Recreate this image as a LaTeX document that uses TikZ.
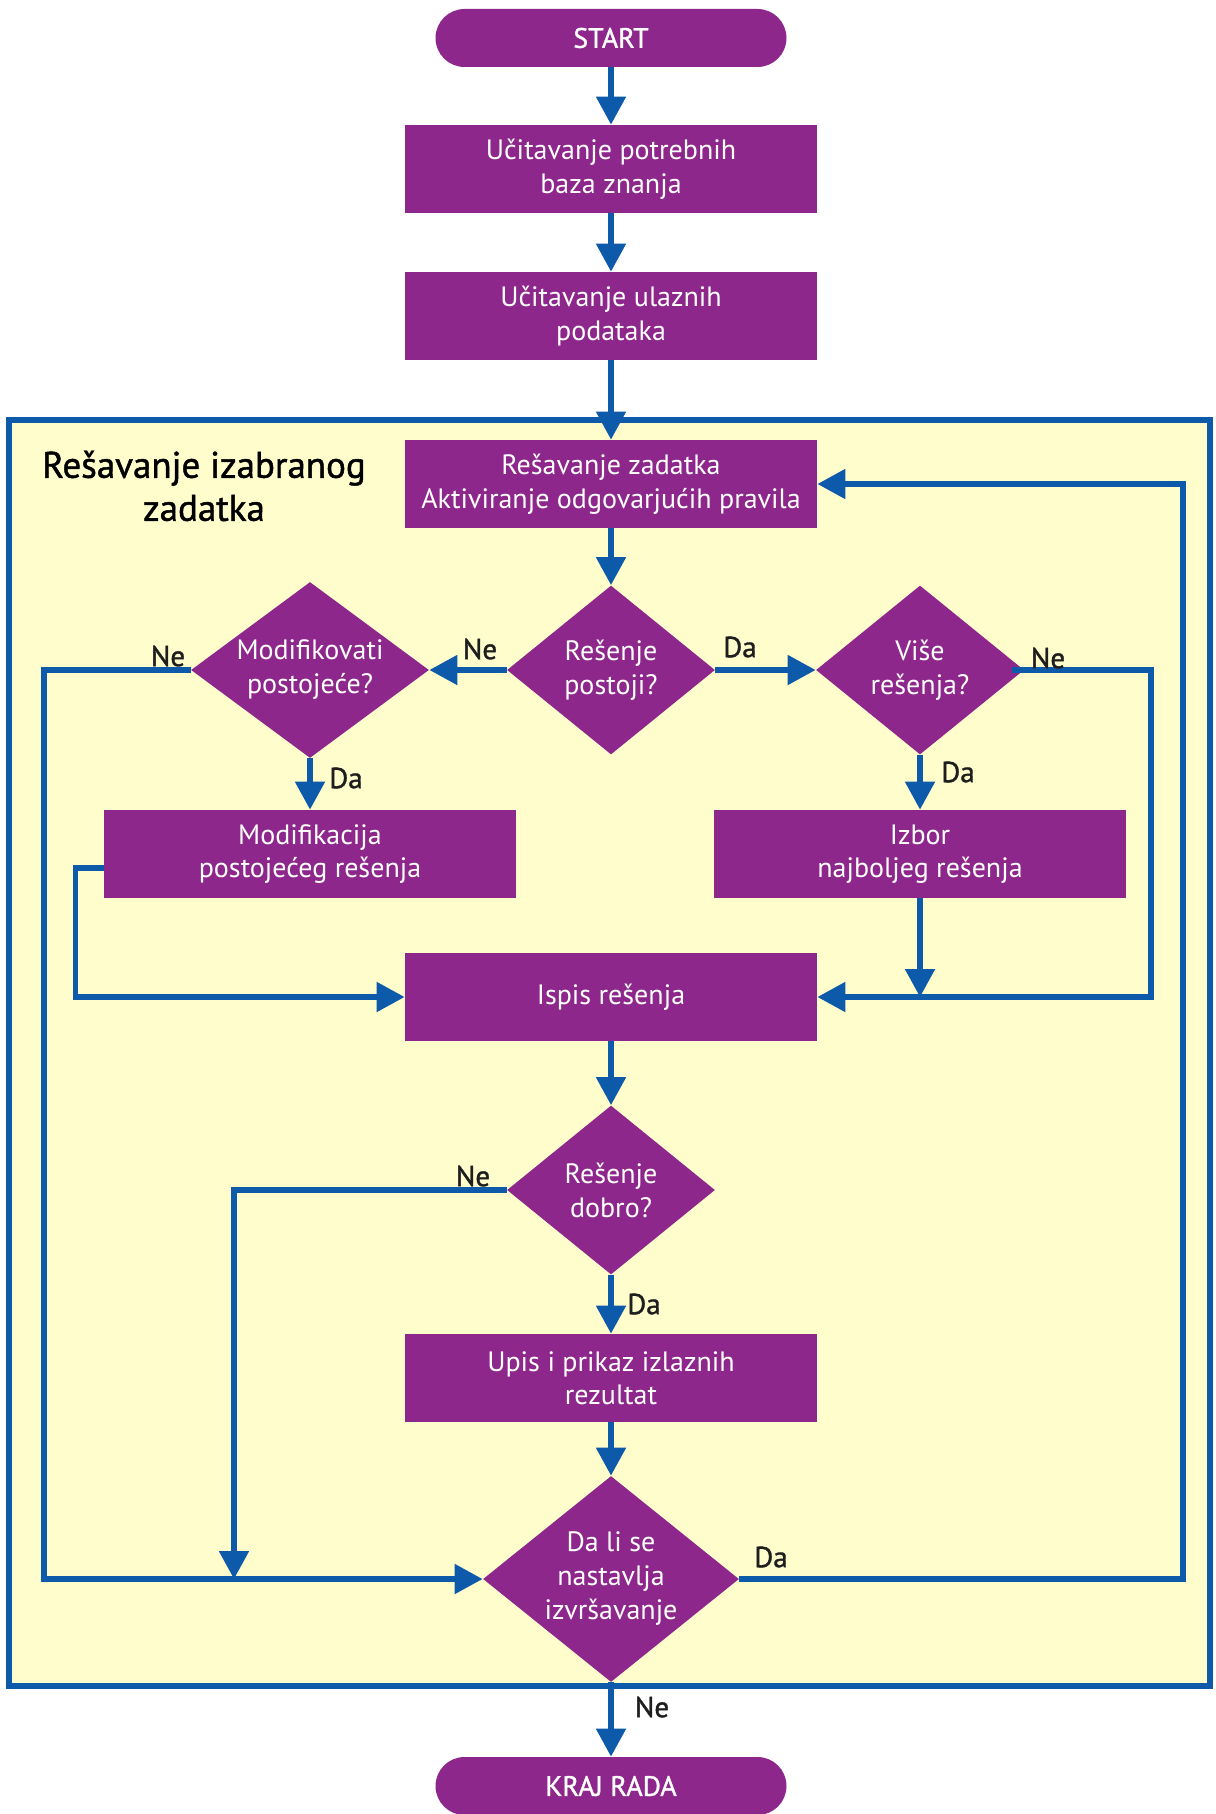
\documentclass[tikz,border=0pt]{standalone}
\usepackage{fontspec}
\setmainfont{PT Sans}
\newfontfamily\medfont{PT Sans}[BoldFont={PT Sans}, BoldFeatures={FakeBold=1.2}]
\usetikzlibrary{shapes.geometric, arrows.meta}
\definecolor{purp}{RGB}{142,39,140}
\definecolor{flow}{RGB}{14,90,170}
\definecolor{bgy}{RGB}{255,253,204}
\definecolor{ink}{RGB}{30,30,30}
\begin{document}
\begin{tikzpicture}[x=0.5pt,y=-0.5pt,
  box/.style={fill=purp, text=white, minimum width=206pt, minimum height=44pt, inner sep=0pt, align=center, font=\fontsize{14}{16.75}\selectfont},
  term/.style={box, rounded corners=14.5pt, minimum width=175.5pt, minimum height=29pt, font=\medfont\bfseries\fontsize{14}{16}\selectfont},
  dia/.style={diamond, fill=purp, text=white, inner sep=-10pt, align=center, font=\fontsize{14}{17}\selectfont},
  flowline/.style={draw=flow, line width=2.6pt},
  arr/.style={flowline, -{Triangle[length=14pt,width=14.5pt]}},
  lbl/.style={font=\medfont\bfseries\fontsize{14.5}{15}\selectfont, text=ink, inner sep=0pt}
]
\useasboundingbox (0,0) rectangle (1215,1814);
\fill[white] (0,0) rectangle (1215,1814);

% container
\draw[flowline, fill=bgy] (9,420) rectangle (1210,1686);
\node[font=\medfont\bfseries\fontsize{18.5}{21.5}\selectfont, text=black, align=center] (title) at (204,486) {Rešavanje izabranog\\zadatka};

% nodes
\node[term] (start) at (611,38) {START};
\node[box] (b1) at (611,169) {Učitavanje potrebnih\\baza znanja};
\node[box] (b2) at (611,316) {Učitavanje ulaznih\\podataka};
\node[box] (b3) at (611,484) {Rešavanje zadatka\\Aktiviranje odgovarjućih pravila};
\node[dia, minimum width=104pt, minimum height=84.5pt, shape aspect=1.23] (d1) at (611,670) {Rešenje\\postoji?};
\node[dia, minimum width=119pt, minimum height=88pt, shape aspect=1.35] (d2) at (310,670) {Modifikovati\\postojeće?};
\node[dia, minimum width=104pt, minimum height=84.5pt, shape aspect=1.23] (d3) at (920,670) {Više\\rešenja?};
\node[box] (mod) at (310,854) {Modifikacija\\postojećeg rešenja};
\node[box] (izb) at (920,854) {Izbor\\najboljeg rešenja};
\node[box] (isp) at (611,997) {Ispis rešenja};
\node[dia, minimum width=104pt, minimum height=84.5pt, shape aspect=1.23] (d4) at (611,1190) {Rešenje\\dobro?};
\node[box] (upis) at (611,1378) {Upis i prikaz izlaznih\\rezultat};
\node[dia, minimum width=128pt, minimum height=103pt, shape aspect=1.24] (d5) at (611,1579) {Da li se\\nastavlja\\izvršavanje};
\node[term] (kraj) at (611,1786) {KRAJ RADA};

% helper coordinates
\coordinate (l1) at (44,1579);
\coordinate (r1) at (1151,997);
\coordinate (l2) at (234,1579);
\coordinate (r2) at (1183,484);

% connectors
\draw[arr] (start) -- (b1);
\draw[arr] (b1) -- (b2);
\draw[arr] (b2) -- (b3);
\draw[arr] (b3) -- (d1);
\draw[arr] (d1.west) -- (d2.east);
\draw[arr] (d1.east) -- (d3.west);
\draw[arr] (d2.south) -- (mod.north);
\draw[arr] (d3.south) -- (izb.north);
\draw[arr] (d2.west) -| (l1) -- (d5.west);
\draw[arr] ([xshift=-6pt]d3.east) -| (r1) -- (isp.east);
\draw[arr] ([yshift=-7pt]mod.west) -- ++(-28,0) |- (isp.west);
\draw[arr] (izb.south) -- (izb.south |- isp.east);
\draw[arr] (isp) -- (d4);
\draw[arr] (d4.west) -| (l2);
\draw[arr] (d4) -- (upis);
\draw[arr] (upis) -- (d5);
\draw[arr] (d5.east) -| (r2) -- (b3.east);
\draw[arr] (d5) -- (kraj);

% labels
\node[lbl] (n1) at (480,649) {Ne};
\node[lbl] (y1) at (740,647) {Da};
\node[lbl] (n2) at (168,656) {Ne};
\node[lbl] (y2) at (346,778) {Da};
\node[lbl] (n3) at (1048,658) {Ne};
\node[lbl] (y3) at (958,772) {Da};
\node[lbl] (n4) at (473,1176) {Ne};
\node[lbl] (y4) at (644,1304) {Da};
\node[lbl] (y5) at (771,1557) {Da};
\node[lbl] (n5) at (652,1707) {Ne};
\end{tikzpicture}
\end{document}
